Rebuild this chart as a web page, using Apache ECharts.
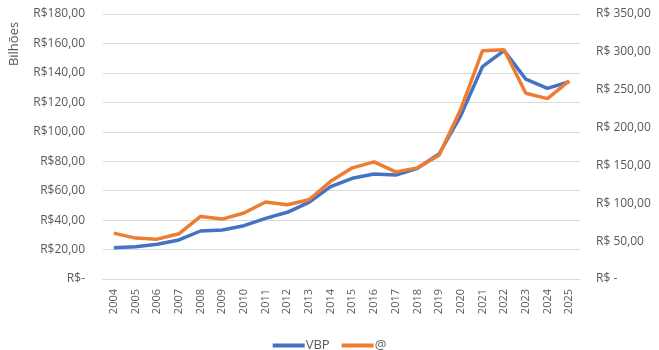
<!DOCTYPE html>
<html>
<head>
<meta charset="utf-8">
<script src="https://cdn.jsdelivr.net/npm/echarts@6/dist/echarts.min.js"></script>
<style>
  html, body { margin: 0; padding: 0; background: #fff; }
  #chart { width: 659px; height: 350px; }
</style>
</head>
<body>
<div id="chart"></div>
<script>
// anos
var years = ['2004', '2005', '2006', '2007', '2008', '2009', '2010', '2011', '2012', '2013', '2014',
  '2015', '2016', '2017', '2018', '2019', '2020', '2021', '2022', '2023', '2024', '2025']
// VBP (eixo esquerdo, bilhões)
var vbp = [21.3, 21.9, 23.6, 26.5, 32.6, 33.3, 36.2, 41.2, 45.3, 52.1, 62.7,
  68.4, 71.3, 70.6, 75.2, 84.9, 111.0, 144.2, 155.1, 135.8, 129.5, 134.0]
// @ (eixo direito)
var arroba = [60.6, 54.0, 52.6, 59.7, 82.6, 79.1, 87.1, 101.7, 98.1, 104.7, 129.0,
  146.8, 154.7, 141.5, 146.8, 163.5, 224.1, 301.4, 302.7, 245.3, 238.2, 261.6]

var fontFamily = '"Open Sans", "Liberation Sans", sans-serif'
var textColor = '#595959'

function fmtLeft(v) {
  if (v === 0) return 'R$-'
  return 'R$' + v.toFixed(2).replace('.', ',')
}
function fmtRight(v) {
  if (v === 0) return 'R$ -'
  return 'R$ ' + v.toFixed(2).replace('.', ',')
}

var chart = echarts.init(document.getElementById('chart'))
chart.setOption({
  animation: false,
  textStyle: { fontFamily: fontFamily },
  grid: { left: 103, right: 79, top: 14, bottom: 71 },
  legend: {
    top: 334,
    left: 'center',
    itemWidth: 32,
    itemHeight: 4,
    itemGap: 12,
    icon: 'rect',
    textStyle: { color: textColor, fontSize: 13, fontFamily: fontFamily, padding: [0, 0, 0, -4] },
    data: ['VBP', '@']
  },
  graphic: [{
    type: 'text',
    x: 14,
    y: 44,
    rotation: Math.PI / 2,
    style: {
      text: 'Bilhões',
      fill: textColor,
      font: '13px ' + fontFamily,
      align: 'center',
      verticalAlign: 'middle'
    }
  }],
  xAxis: {
    type: 'category',
    data: years,
    boundaryGap: true,
    axisLine: { lineStyle: { color: '#d9d9d9' } },
    axisTick: { show: false },
    axisLabel: { rotate: 90, color: textColor, fontSize: 11, margin: 10, interval: 0 }
  },
  yAxis: [{
    type: 'value',
    min: 0,
    max: 180,
    interval: 20,
    axisLine: { show: false },
    axisTick: { show: false },
    splitLine: { lineStyle: { color: '#d9d9d9' } },
    axisLabel: { color: textColor, fontSize: 12, margin: 18, formatter: fmtLeft }
  }, {
    type: 'value',
    min: 0,
    max: 350,
    interval: 50,
    axisLine: { show: false },
    axisTick: { show: false },
    splitLine: { show: false },
    axisLabel: { color: textColor, fontSize: 12, margin: 16, align: 'left', formatter: fmtRight }
  }],
  series: [{
    name: 'VBP',
    type: 'line',
    yAxisIndex: 0,
    data: vbp,
    symbol: 'none',
    color: '#4472C4',
    lineStyle: { width: 3.5, color: '#4472C4' }
  }, {
    name: '@',
    type: 'line',
    yAxisIndex: 1,
    data: arroba,
    symbol: 'none',
    color: '#ED7D31',
    lineStyle: { width: 3.5, color: '#ED7D31' }
  }]
})
</script>
</body>
</html>
